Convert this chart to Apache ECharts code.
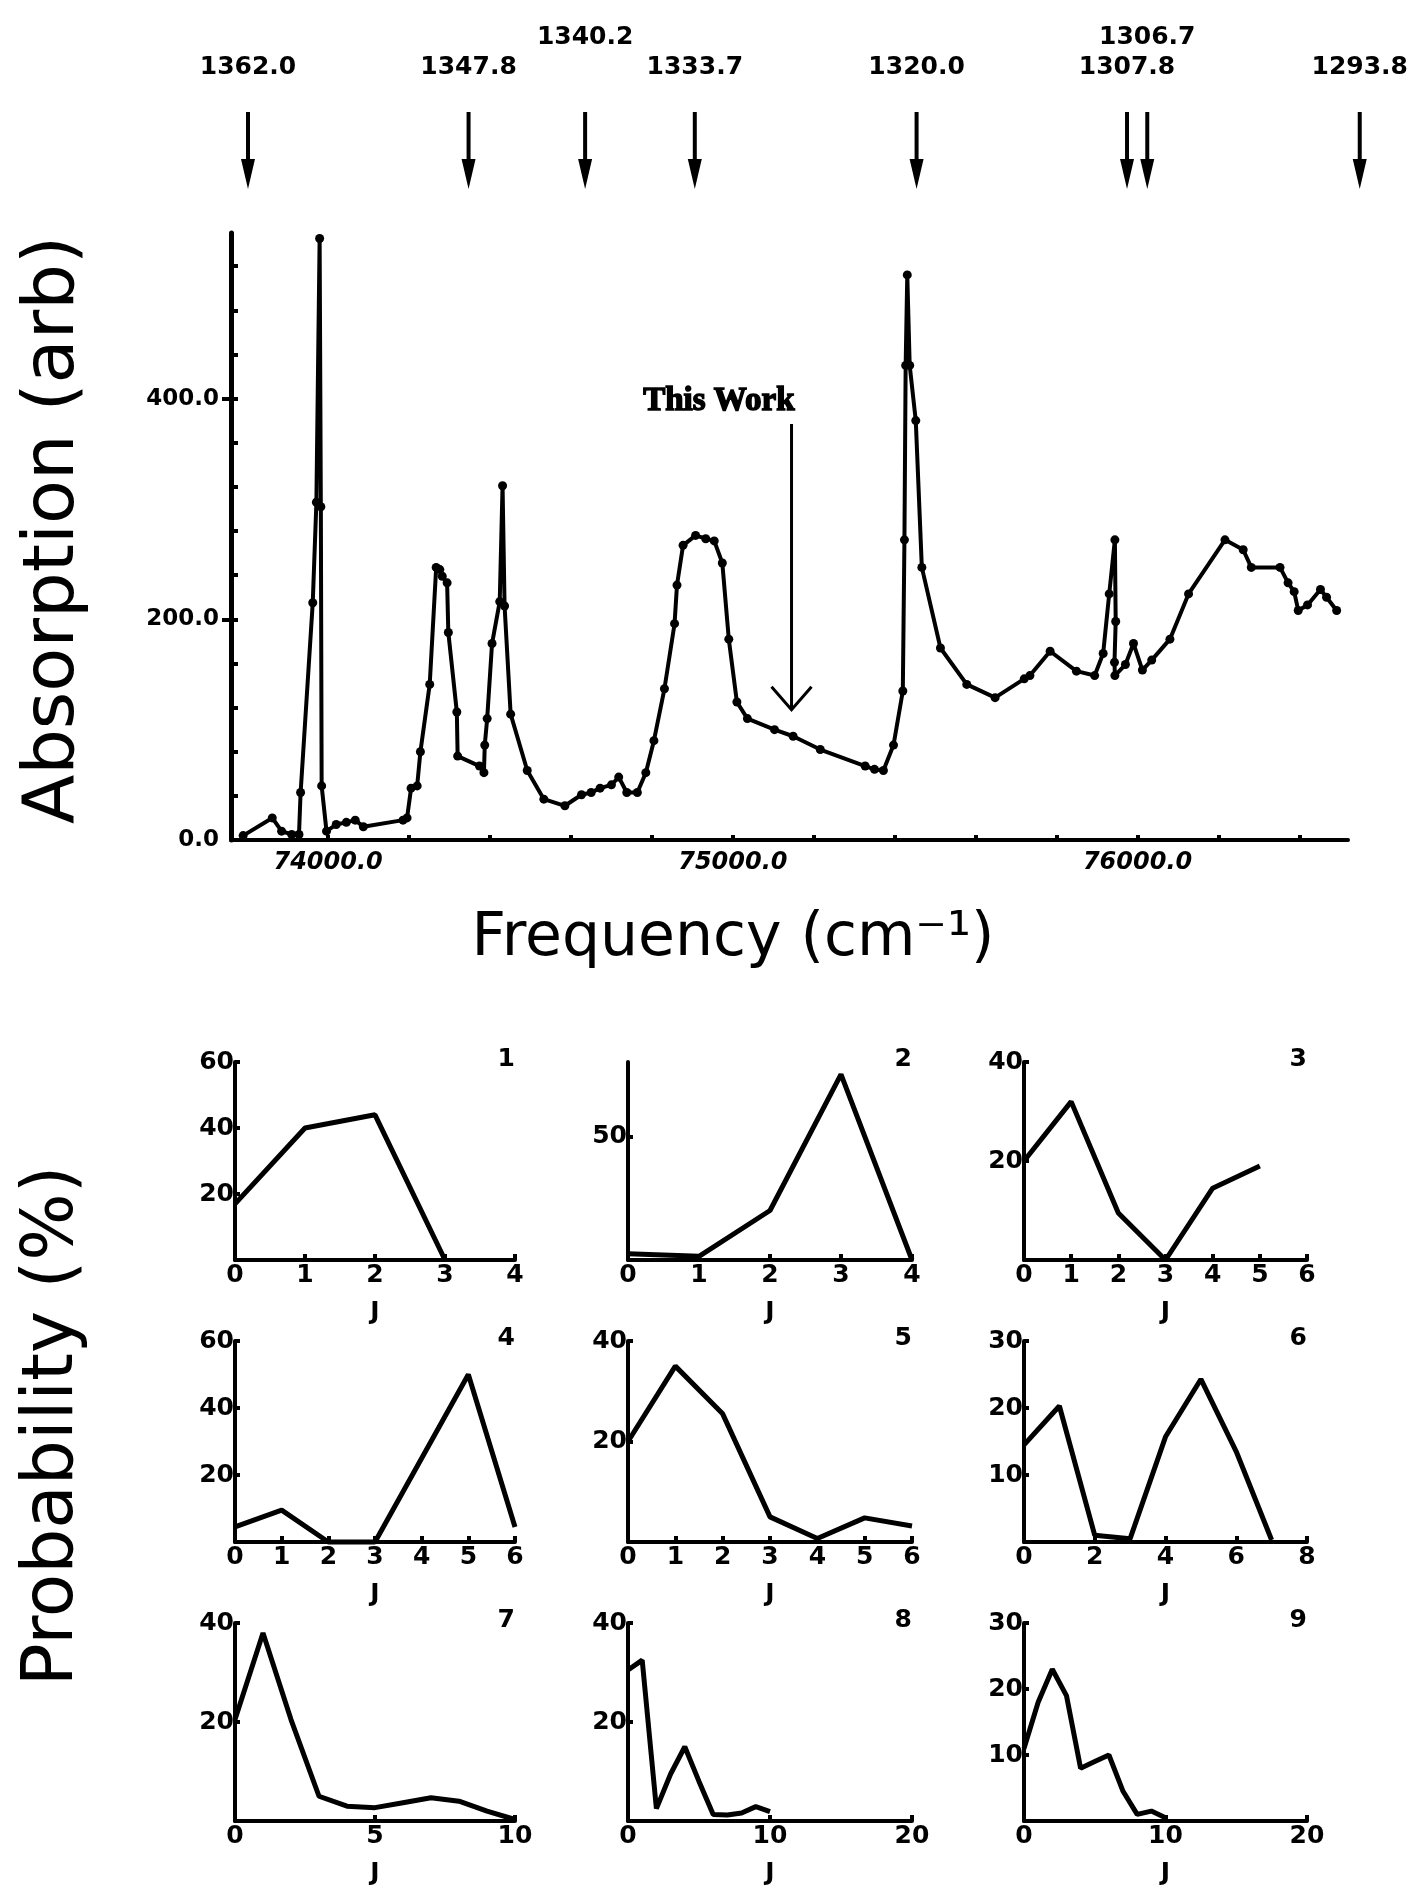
<!DOCTYPE html>
<html><head><meta charset="utf-8">
<script src="https://cdn.jsdelivr.net/npm/echarts@6/dist/echarts.min.js"></script>
<style>html,body{margin:0;padding:0;background:#fff}#c{width:1419px;height:1887px}</style>
</head><body><div id="c"></div>
<script>
// ---------- main spectrum ----------
const specFreq = [73790,73862,73885,73910,73928,73932,73962,73971,73979,73982,73984,73996,74020,74045,74067,74087,74185,74195,74205,74220,74228,74251,74267,74276,74282,74294,74297,74318,74320,74374,74385,74387,74393,74405,74424,74431,74436,74451,74492,74533,74585,74626,74650,74672,74700,74718,74738,74764,74785,74805,74831,74856,74862,74877,74908,74933,74954,74974,74990,75010,75036,75103,75149,75216,75327,75350,75372,75397,75420,75424,75427,75431,75437,75452,75467,75513,75578,75648,75720,75734,75784,75849,75894,75915,75930,75944,75946,75943,75944,75970,75990,76012,76035,76080,76126,76216,76261,76281,76352,76372,76387,76397,76420,76452,76467,76492];
const specAbs  = [4,20,8,5,5,43,215,306,545,302,49,8,14,16,18,12,18,20,47,49,80,141,247,245,239,233,188,116,76,67,61,86,110,178,216,321,212,114,63,37,31,41,43,47,50,57,43,43,61,90,137,196,231,267,276,273,271,251,182,125,110,100,94,82,67,64,63,86,135,272,430,512,430,380,247,174,141,129,146,149,171,153,149,169,223,272,198,161,149,159,178,154,163,182,223,272,263,247,247,233,225,208,213,227,220,208];
const specXTicks = [74000,74200,74400,74600,74800,75000,75200,75400,75600,75800,76000,76200,76400];
const specXLabels = [74000,75000,76000];
const specYTicks = [0,40,80,120,160,200,240,280,320,360,400,440,480,520];
const specYLabels = [0,200,400];

// top reference arrows
const arrowFreq  = [73802,74347,74635,74906,75454,75974,76024,76549];
const arrowText  = ['1362.0','1347.8','1340.2','1333.7','1320.0','1307.8','1306.7','1293.8'];
const arrowRow   = [0,0,1,0,0,0,1,0];
// "This Work" arrow: frequency, top value, tip value
const thisWork = [75145, 377, 118];

// ---------- probability panels ----------
const panelNames  = ['1','2','3','4','5','6','7','8','9'];
const panelXMax   = [4,4,6,6,6,8,10,20,20];
const panelXStep  = [1,1,1,1,1,2,5,10,10];
const panelYMax   = [60,80,40,60,40,30,40,40,30];
const panelYLabels = [[20,40,60],[50],[20,40],[20,40,60],[20,40],[10,20,30],[20,40],[20,40],[10,20,30]];
const prob1 = [17,40,44,0];
const prob2 = [2.5,1.5,20,75,0];
const prob3 = [20,32,9.5,0,14.5,19];
const prob4 = [4.5,9.5,0,0,25,50,4.5];
const prob5 = [20,35,25.5,5,0.7,4.8,3.2];
const prob6 = [14.5,20.3,1,0.5,15.7,24.3,13.5,0.3];
const prob7 = [20.5,38,20.5,5,3,2.7,3.7,4.7,4,2,0.3];
const prob8 = [30.5,32.5,2.5,9.5,15,8,1.3,1.2,1.6,2.9,1.9];
const prob9 = [11,18,23,19,8,9,10,4.5,1,1.5,0.5];
const probs = [prob1,prob2,prob3,prob4,prob5,prob6,prob7,prob8,prob9];

// ---------- layout ----------
const mainGrid = {left:231, top:233, width:1117, height:607};
const colLeft = [235,628,1024], colWidth = [280,284,283];
const rowTop = [1062,1341,1623], rowHeight = [198,201,204];

const FONT = '"DejaVu Sans", "Liberation Sans", sans-serif';
const chart = echarts.init(document.getElementById('c'), null, {renderer:'canvas'});

const grids = [Object.assign({}, mainGrid)];
const xAxes = [{
  type:'value', gridIndex:0, min:73760, max:76520,
  axisLine:{lineStyle:{color:'#000', width:4}},
  axisTick:{customValues:specXTicks, inside:true, length:5, lineStyle:{color:'#000', width:4}},
  axisLabel:{customValues:specXLabels, formatter:v=>v.toFixed(1), color:'#000', fontFamily:FONT, fontWeight:'bold', fontStyle:'italic', fontSize:24, margin:11},
  splitLine:{show:false}
}];
const yAxes = [{
  type:'value', gridIndex:0, position:'left', min:0, max:550,
  axisLine:{show:true, lineStyle:{color:'#000', width:5}},
  axisTick:{customValues:specYTicks, inside:true, length:7, lineStyle:{color:'#000', width:4}},
  axisLabel:{customValues:specYLabels, formatter:v=>v.toFixed(1), color:'#000', fontFamily:FONT, fontWeight:'bold', fontSize:23, margin:12},
  splitLine:{show:false}
},{
  type:'value', gridIndex:0, position:'left', offset:0, min:0, max:550,
  axisLine:{show:false},
  axisTick:{customValues:[200,400], inside:false, length:9, lineStyle:{color:'#000', width:4}},
  axisLabel:{show:false}, splitLine:{show:false}
}];

const series = [{
  type:'line', xAxisIndex:0, yAxisIndex:0,
  data: specFreq.map((f,i)=>[f, specAbs[i]]),
  symbol:'circle', symbolSize:9, showSymbol:true,
  itemStyle:{color:'#000'}, lineStyle:{color:'#000', width:4},
  animation:false, clip:false, z:3
},{
  type:'custom', xAxisIndex:0, yAxisIndex:0, clip:false, animation:false,
  data: arrowFreq.map((f,i)=>[f, arrowRow[i]]),
  renderItem:(params, api)=>{
    const p = api.coord([api.value(0), 550]);
    const gx = p[0], top = p[1];
    const row = api.value(1);
    return {type:'group', children:[
      {type:'line', shape:{x1:gx, y1:top-121, x2:gx, y2:top-62}, style:{stroke:'#000', lineWidth:4}},
      {type:'polygon', shape:{points:[[gx-7,top-74],[gx+7,top-74],[gx,top-44]]}, style:{fill:'#000'}},
      {type:'text', style:{text:arrowText[params.dataIndex], x:gx, y: row ? top-196 : top-166,
        align:'center', verticalAlign:'middle', font:'bold 25px ' + FONT, fill:'#000'}}
    ]};
  }
},{
  type:'custom', xAxisIndex:0, yAxisIndex:0, clip:false, animation:false,
  data:[thisWork],
  renderItem:(params, api)=>{
    const a = api.coord([api.value(0), api.value(1)]);
    const b = api.coord([api.value(0), api.value(2)]);
    return {type:'group', children:[
      {type:'line', shape:{x1:a[0], y1:a[1], x2:b[0], y2:b[1]}, style:{stroke:'#000', lineWidth:3}},
      {type:'polyline', shape:{points:[[b[0]-20,b[1]-23],[b[0],b[1]],[b[0]+20,b[1]-23]]}, style:{stroke:'#000', lineWidth:3, fill:null}},
      {type:'text', style:{text:'This Work', x:a[0]+3, y:a[1]-22, align:'right', verticalAlign:'middle',
        font:'bold 33px "Liberation Serif", "DejaVu Serif", serif', fill:'#000', stroke:'#000', lineWidth:1.5}}
    ]};
  }
}];

const graphics = [
  {type:'text', x:54, y:530, rotation:Math.PI/2, style:{text:'Absorption (arb)', font:'72px ' + FONT, align:'center', verticalAlign:'middle', fill:'#000'}},
  {type:'text', x:733, y:939, style:{text:'Frequency (cm\u207B\u00B9)', font:'60px ' + FONT, align:'center', verticalAlign:'middle', fill:'#000'}},
  {type:'text', x:54, y:1426, rotation:Math.PI/2, style:{text:'Probability (%)', font:'71px ' + FONT, align:'center', verticalAlign:'middle', fill:'#000'}}
];

for (let k = 0; k < 9; k++) {
  const r = Math.floor(k/3), c = k % 3;
  grids.push({left:colLeft[c], top:rowTop[r], width:colWidth[c], height:rowHeight[r]});
  xAxes.push({
    type:'value', gridIndex:k+1, min:0, max:panelXMax[k], interval:panelXStep[k],
    name:'J', nameLocation:'middle', nameGap:40,
    nameTextStyle:{color:'#000', fontFamily:FONT, fontWeight:'bold', fontSize:25},
    axisLine:{lineStyle:{color:'#000', width:4}},
    axisTick:{inside:true, length:6, lineStyle:{color:'#000', width:4}},
    axisLabel:{color:'#000', fontFamily:FONT, fontWeight:'bold', fontSize:25, margin:3, showMinLabel:true, showMaxLabel:true},
    splitLine:{show:false}
  });
  yAxes.push({
    type:'value', gridIndex:k+1, min:0, max:panelYMax[k],
    axisLine:{show:true, lineStyle:{color:'#000', width:4}},
    axisTick:{customValues:panelYLabels[k], inside:true, length:5, lineStyle:{color:'#000', width:4}},
    axisLabel:{customValues:panelYLabels[k], color:'#000', fontFamily:FONT, fontWeight:'bold', fontSize:25, margin:1},
    splitLine:{show:false}
  });
  series.push({
    type:'line', xAxisIndex:k+1, yAxisIndex:k+2,
    data: probs[k].map((v,j)=>[j, v]),
    showSymbol:false, symbol:'none',
    lineStyle:{color:'#000', width:5}, animation:false, clip:false
  });
  graphics.push({type:'text', x:colLeft[c]+colWidth[c], y:rowTop[r]-3,
    style:{text:panelNames[k], font:'bold 25px ' + FONT, align:'right', verticalAlign:'middle', fill:'#000'}});
}

chart.setOption({
  backgroundColor:'#fff', animation:false,
  grid:grids, xAxis:xAxes, yAxis:yAxes, series:series, graphic:graphics
});
</script></body></html>
